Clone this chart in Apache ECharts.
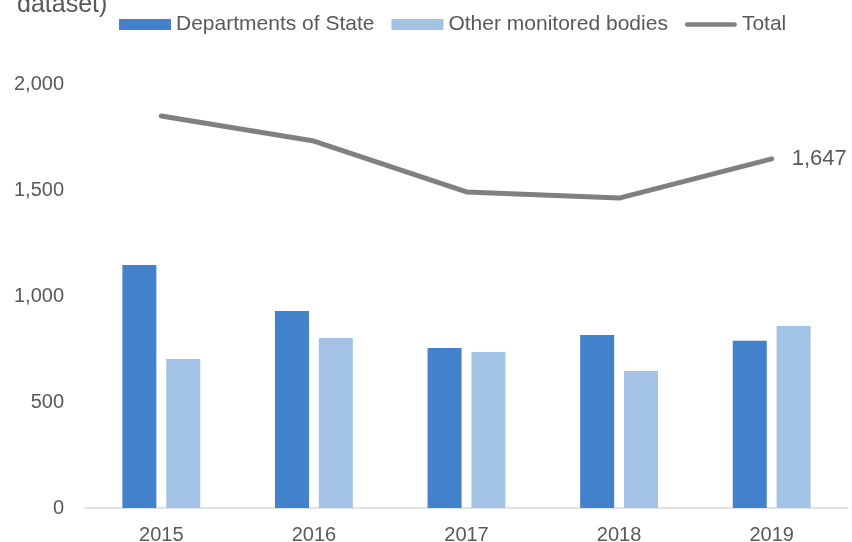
<!DOCTYPE html>
<html>
<head>
<meta charset="utf-8">
<script src="https://cdn.jsdelivr.net/npm/echarts@6/dist/echarts.min.js"></script>
<style>
  html, body { margin: 0; padding: 0; background: #fff; }
  #chart { width: 852px; height: 542px; }
</style>
</head>
<body>
<div id="chart"></div>
<script>
// 数据
const years = ['2015', '2016', '2017', '2018', '2019'];
const departments = [1146, 929, 755, 816, 789];
const otherBodies = [703, 802, 736, 646, 858];
const totals = [1849, 1731, 1491, 1462, 1647];
const yTicks = [0, 500, 1000, 1500, 2000];

const textColor = '#595959';
const fontFamily = '"Liberation Sans", Arial, sans-serif';

const chart = echarts.init(document.getElementById('chart'));
const option = {
    animation: false,
    textStyle: { fontFamily: fontFamily },
    title: {
        text: 'dataset)',
        left: 12,
        top: -12,
        textStyle: { color: textColor, fontSize: 25, fontWeight: 'normal', fontFamily: fontFamily }
    },
    legend: {
        left: 114,
        top: 9,
        itemWidth: 52,
        itemHeight: 11,
        itemGap: 17,
        textStyle: { color: textColor, fontSize: 21, fontFamily: fontFamily },
        data: [
            { name: 'Departments of State', icon: 'rect' },
            { name: 'Other monitored bodies', icon: 'rect' },
            // 粗线图例
            { name: 'Total', icon: 'path://M2.5,0L54.5,0A2.5,2.5,0,0,1,54.5,5L2.5,5A2.5,2.5,0,0,1,2.5,0Z' }
        ]
    },
    grid: {
        left: 85,
        right: 4,
        top: 84,
        bottom: 34,
        outerBoundsMode: 'none'
    },
    xAxis: {
        type: 'category',
        data: years,
        axisLine: { lineStyle: { color: '#d9d9d9', width: 1.5 } },
        axisTick: { show: false },
        axisLabel: { color: textColor, fontSize: 20, margin: 17, fontFamily: fontFamily }
    },
    yAxis: {
        type: 'value',
        min: yTicks[0],
        max: yTicks[yTicks.length - 1],
        interval: 500,
        splitLine: { show: false },
        axisLine: { show: false },
        axisTick: { show: false },
        axisLabel: {
            color: textColor,
            fontSize: 20,
            margin: 21,
            fontFamily: fontFamily,
            formatter: function (v) { return v.toLocaleString('en-US'); }
        }
    },
    series: [
        {
            name: 'Departments of State',
            type: 'bar',
            data: departments,
            barWidth: 34,
            barGap: '29%',
            itemStyle: { color: '#4282cd' }
        },
        {
            name: 'Other monitored bodies',
            type: 'bar',
            data: otherBodies,
            barWidth: 34,
            itemStyle: { color: '#a2c2e6' }
        },
        {
            name: 'Total',
            type: 'line',
            data: totals,
            symbol: 'none',
            lineStyle: { color: '#808080', width: 5, cap: 'round', join: 'round' },
            itemStyle: { color: '#808080' },
            endLabel: {
                show: true,
                color: textColor,
                fontSize: 22,
                distance: 20,
                fontFamily: fontFamily,
                formatter: function (p) { return p.value.toLocaleString('en-US'); }
            }
        }
    ]
};
chart.setOption(option);
</script>
</body>
</html>
